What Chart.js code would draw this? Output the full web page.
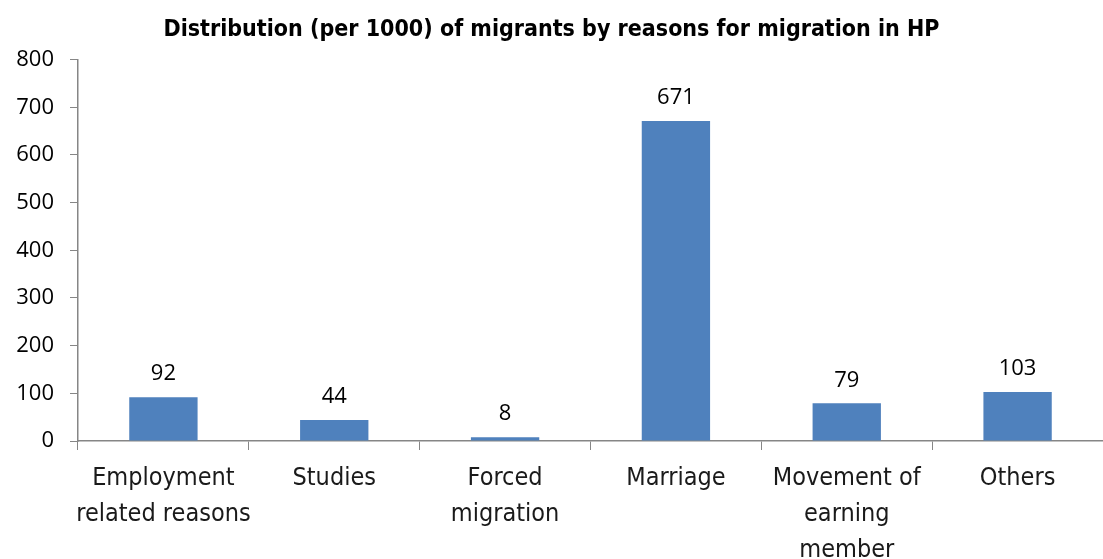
<!DOCTYPE html>
<html>
<head>
<meta charset="utf-8">
<script src="https://cdn.jsdelivr.net/npm/chart.js@4/dist/chart.umd.min.js"></script>
<style>
  body { margin: 0; background: #fff; }
</style>
</head>
<body>
<canvas id="myChart" width="1103" height="559"></canvas>
<script>
// Datos del grafico
const titulo = "Distribution (per 1000) of migrants by reasons for migration in HP";
const categorias = [
  ["Employment", "related reasons"],
  "Studies",
  ["Forced", "migration"],
  "Marriage",
  ["Movement of", "earning", "member"],
  "Others",
];
const valores = [92, 44, 8, 671, 79, 103];
const ticksY = [0, 100, 200, 300, 400, 500, 600, 700, 800];

const colorBarra = "#4F81BD";
const colorEje = "#868686";
const fuenteNum = "'Open Sans', sans-serif";
const fuenteCond = "'Liberation Sans Narrow', 'DejaVu Sans Condensed', sans-serif";

// Plugin para etiquetas de valor
const etiquetas = {
  id: "etiquetas",
  afterDatasetsDraw(chart) {
    const { ctx } = chart;
    const meta = chart.getDatasetMeta(0);
    ctx.save();
    ctx.font = "22px " + fuenteNum;
    ctx.fillStyle = "#000";
    ctx.textAlign = "center";
    ctx.textBaseline = "bottom";
    meta.data.forEach((bar, i) => {
      ctx.fillText(valores[i], bar.x, bar.y - 12);
    });
    ctx.restore();
  },
};

const config = {
  type: "bar",
  data: {
    labels: categorias,
    datasets: [
      {
        data: valores,
        backgroundColor: colorBarra,
        barPercentage: 0.4,
        categoryPercentage: 1,
      },
    ],
  },
  options: {
    responsive: false,
    animation: false,
    layout: { padding: { left: 0, right: 0, top: 0, bottom: 0 } },
    plugins: {
      legend: { display: false },
      tooltip: { enabled: false },
      title: {
        display: true,
        text: titulo,
        color: "#000",
        font: { family: fuenteCond, size: 23, weight: "bold" },
        padding: { top: 16, bottom: 16 },
      },
    },
    scales: {
      x: {
        grid: { drawOnChartArea: false, color: colorEje, tickLength: 9, offset: true },
        border: { color: colorEje, width: 1.5 },
        ticks: {
          color: "#1a1a1a",
          font: { family: fuenteCond, size: 25, lineHeight: 1.44 },
          padding: 10,
          maxRotation: 0,
          autoSkip: false,
        },
        afterFit: (s) => { s.height = 118; },
      },
      y: {
        min: 0,
        max: 800,
        afterBuildTicks: (s) => { s.ticks = ticksY.map((v) => ({ value: v })); },
        grid: { drawOnChartArea: false, color: colorEje, tickLength: 8 },
        border: { color: colorEje, width: 1.5 },
        ticks: {
          color: "#000",
          font: { family: fuenteNum, size: 22 },
          padding: 16,
        },
        afterFit: (s) => { s.width = 78; },
      },
    },
  },
  plugins: [etiquetas],
};

new Chart(document.getElementById("myChart"), config);
</script>
</body>
</html>
